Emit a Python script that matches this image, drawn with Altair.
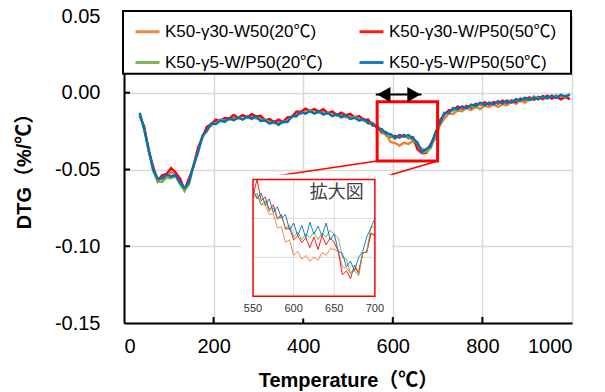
import altair as alt
import pandas as pd

# ---------------- data ----------------
SERIES = ["K50-γ30-W50(20℃)", "K50-γ30-W/P50(50℃)", "K50-γ5-W/P50(20℃)", "K50-γ5-W/P50(50℃)"]
COLORS = ["#ED7D31", "#FF0000", "#70AD47", "#0070C0"]

T_MAIN = list(range(35, 1000, 10))

orange = [
    -0.0149, -0.0225, -0.0376, -0.0478, -0.0573, -0.0540, -0.0549, -0.0518, -0.0536, -0.0561,
    -0.0637, -0.0565, -0.0476, -0.0356, -0.0288, -0.0222, -0.0216, -0.0183, -0.0184, -0.0166,
    -0.0177, -0.0158, -0.0167, -0.0146, -0.0164, -0.0145, -0.0169, -0.0161, -0.0182, -0.0176,
    -0.0200, -0.0188, -0.0194, -0.0161, -0.0161, -0.0128, -0.0139, -0.0114, -0.0122, -0.0111,
    -0.0132, -0.0121, -0.0137, -0.0123, -0.0149, -0.0135, -0.0161, -0.0148, -0.0164, -0.0156,
    -0.0184, -0.0185, -0.0211, -0.0213, -0.0263, -0.0270, -0.0321, -0.0328, -0.0344, -0.0326,
    -0.0334, -0.0315, -0.0346, -0.0363, -0.0378, -0.0335, -0.0301, -0.0213, -0.0169, -0.0136,
    -0.0137, -0.0115, -0.0121, -0.0098, -0.0113, -0.0090, -0.0106, -0.0085, -0.0093, -0.0077,
    -0.0093, -0.0075, -0.0081, -0.0057, -0.0072, -0.0048, -0.0064, -0.0041, -0.0047, -0.0030,
    -0.0044, -0.0027, -0.0036, -0.0016, -0.0035, -0.0018, -0.0041,
]
red = [
    -0.0147, -0.0219, -0.0379, -0.0485, -0.0577, -0.0537, -0.0529, -0.0490, -0.0518, -0.0559,
    -0.0632, -0.0559, -0.0484, -0.0365, -0.0292, -0.0222, -0.0204, -0.0175, -0.0183, -0.0164,
    -0.0167, -0.0144, -0.0162, -0.0145, -0.0160, -0.0139, -0.0154, -0.0150, -0.0178, -0.0171,
    -0.0190, -0.0174, -0.0189, -0.0160, -0.0157, -0.0122, -0.0124, -0.0103, -0.0118, -0.0106,
    -0.0122, -0.0107, -0.0132, -0.0122, -0.0145, -0.0129, -0.0146, -0.0137, -0.0160, -0.0151,
    -0.0177, -0.0174, -0.0214, -0.0215, -0.0257, -0.0257, -0.0289, -0.0280, -0.0293, -0.0274,
    -0.0297, -0.0289, -0.0369, -0.0395, -0.0392, -0.0332, -0.0274, -0.0180, -0.0143, -0.0114,
    -0.0115, -0.0089, -0.0104, -0.0085, -0.0097, -0.0072, -0.0079, -0.0062, -0.0077, -0.0060,
    -0.0071, -0.0051, -0.0067, -0.0049, -0.0062, -0.0038, -0.0046, -0.0029, -0.0044, -0.0027,
    -0.0039, -0.0019, -0.0039, -0.0025, -0.0044, -0.0027, -0.0042,
]
green = [
    -0.0134, -0.0240, -0.0376, -0.0511, -0.0576, -0.0581, -0.0552, -0.0557, -0.0543, -0.0595,
    -0.0639, -0.0600, -0.0476, -0.0391, -0.0286, -0.0251, -0.0202, -0.0202, -0.0173, -0.0185,
    -0.0169, -0.0180, -0.0159, -0.0171, -0.0159, -0.0173, -0.0157, -0.0182, -0.0173, -0.0197,
    -0.0192, -0.0210, -0.0186, -0.0186, -0.0156, -0.0156, -0.0127, -0.0135, -0.0113, -0.0132,
    -0.0124, -0.0143, -0.0129, -0.0148, -0.0144, -0.0163, -0.0149, -0.0169, -0.0155, -0.0177,
    -0.0174, -0.0200, -0.0196, -0.0226, -0.0241, -0.0279, -0.0280, -0.0300, -0.0276, -0.0288,
    -0.0287, -0.0308, -0.0329, -0.0389, -0.0386, -0.0359, -0.0270, -0.0205, -0.0131, -0.0133,
    -0.0107, -0.0115, -0.0091, -0.0101, -0.0086, -0.0096, -0.0072, -0.0084, -0.0062, -0.0076,
    -0.0058, -0.0072, -0.0049, -0.0060, -0.0046, -0.0057, -0.0034, -0.0046, -0.0024, -0.0038,
    -0.0024, -0.0038, -0.0017, -0.0030, -0.0018, -0.0031, -0.0010,
]
blue = [
    -0.0130, -0.0238, -0.0364, -0.0501, -0.0556, -0.0560, -0.0534, -0.0544, -0.0536, -0.0585,
    -0.0620, -0.0583, -0.0474, -0.0391, -0.0281, -0.0245, -0.0199, -0.0204, -0.0181, -0.0190,
    -0.0165, -0.0178, -0.0162, -0.0176, -0.0154, -0.0167, -0.0154, -0.0184, -0.0181, -0.0202,
    -0.0188, -0.0208, -0.0189, -0.0191, -0.0151, -0.0150, -0.0124, -0.0137, -0.0121, -0.0137,
    -0.0120, -0.0141, -0.0132, -0.0153, -0.0139, -0.0157, -0.0146, -0.0171, -0.0163, -0.0182,
    -0.0170, -0.0198, -0.0199, -0.0231, -0.0236, -0.0265, -0.0269, -0.0294, -0.0276, -0.0285,
    -0.0275, -0.0298, -0.0324, -0.0386, -0.0366, -0.0345, -0.0259, -0.0199, -0.0131, -0.0130,
    -0.0098, -0.0108, -0.0089, -0.0101, -0.0076, -0.0085, -0.0064, -0.0081, -0.0065, -0.0076,
    -0.0054, -0.0070, -0.0052, -0.0065, -0.0041, -0.0051, -0.0031, -0.0048, -0.0032, -0.0043,
    -0.0020, -0.0036, -0.0020, -0.0035, -0.0013, -0.0025, -0.0012,
]

T_INSET = list(range(550, 701, 5))
inset_orange = [
    -0.0200, -0.0190, -0.0215, -0.0215, -0.0240, -0.0238, -0.0275, -0.0272, -0.0312, -0.0305,
    -0.0345, -0.0335, -0.0355, -0.0345, -0.0360, -0.0350, -0.0358, -0.0338, -0.0345, -0.0328,
    -0.0330, -0.0335, -0.0375, -0.0378, -0.0390, -0.0380, -0.0385, -0.0340, -0.0335, -0.0292,
    -0.0295,
]
inset_red = [
    -0.0190, -0.0150, -0.0205, -0.0195, -0.0228, -0.0215, -0.0250, -0.0240, -0.0278, -0.0275,
    -0.0305, -0.0295, -0.0312, -0.0300, -0.0325, -0.0298, -0.0330, -0.0295, -0.0318, -0.0300,
    -0.0312, -0.0335, -0.0395, -0.0385, -0.0405, -0.0370, -0.0392, -0.0338, -0.0338, -0.0288,
    -0.0292,
]
inset_green = [
    -0.0195, -0.0185, -0.0215, -0.0205, -0.0232, -0.0222, -0.0252, -0.0245, -0.0275, -0.0268,
    -0.0298, -0.0285, -0.0305, -0.0290, -0.0300, -0.0285, -0.0305, -0.0288, -0.0298, -0.0280,
    -0.0292, -0.0300, -0.0350, -0.0355, -0.0392, -0.0385, -0.0398, -0.0340, -0.0335, -0.0275,
    -0.0270,
]
inset_blue = [
    -0.0175, -0.0200, -0.0185, -0.0215, -0.0200, -0.0235, -0.0220, -0.0250, -0.0240, -0.0280,
    -0.0262, -0.0295, -0.0268, -0.0300, -0.0260, -0.0290, -0.0270, -0.0295, -0.0262, -0.0305,
    -0.0290, -0.0335, -0.0340, -0.0375, -0.0360, -0.0385, -0.0350, -0.0335, -0.0298, -0.0275,
    -0.0250,
]

X_TICKS = [0, 200, 400, 600, 800, 1000]
Y_TICKS = [-0.15, -0.10, -0.05, 0.00, 0.05]
INNER_Y_TICKS = [0.0, -0.05, -0.10]
INNER_X_TICKS = [200, 400, 600, 800]
INSET_X_TICKS = [550, 600, 650, 700]
INSET_X_GRID = [600, 650]
INSET_Y_GRID = [-0.025, -0.035]
INSET_X_DOMAIN = [550, 700]
INSET_Y_DOMAIN = [-0.045, -0.015]

# annotation geometry, in main-chart data units
ZOOM_BOX_X = [565, 700]
ZOOM_BOX_Y = [-0.0058, -0.0445]
ARROW_X = [562, 664]
ARROW_Y = -0.0012
ARROW_HEAD_X = [580, 647]
INSET_PLACE_X = [288, 560]
INSET_PLACE_Y = [-0.0565, -0.1325]
INSET_BG_X = [262, 597]
INSET_BG_Y = [-0.0532, -0.1470]
LEGEND_BOX_X = [-2.2, 997.8]
LEGEND_BOX_Y = [0.0532, 0.0123]
ZOOM_TEXT = ["拡大図"]
ZOOM_TEXT_POS = [653, -0.0185]

# ---------------- layout ----------------
W, H = 448, 307
XDOM = [0, 1000]
YDOM = [-0.15, 0.05]
FONT = "Liberation Sans, Arial, 'Noto Sans CJK JP', sans-serif"
CJK = "'Noto Sans CJK JP', sans-serif"


def px_x(v):
    return (v - XDOM[0]) / (XDOM[1] - XDOM[0]) * W


def px_y(v):
    return (YDOM[1] - v) / (YDOM[1] - YDOM[0]) * H


xs = alt.Scale(domain=XDOM, nice=False, zero=False)
ys = alt.Scale(domain=YDOM, nice=False, zero=False)
ixs = alt.Scale(domain=INSET_X_DOMAIN, range=[px_x(INSET_PLACE_X[0]), px_x(INSET_PLACE_X[1])], nice=False, zero=False)
iys = alt.Scale(domain=INSET_Y_DOMAIN, range=[px_y(INSET_PLACE_Y[1]), px_y(INSET_PLACE_Y[0])], nice=False, zero=False)

rows = []
for name, vals in zip(SERIES, [orange, red, green, blue]):
    for t, v in zip(T_MAIN, vals):
        rows.append({"T": t, "v": v, "s": name})
df_main = pd.DataFrame(rows)

irows = []
for name, vals in zip(SERIES, [inset_orange, inset_red, inset_green, inset_blue]):
    for t, v in zip(T_INSET, vals):
        irows.append({"T": t, "v": v, "s": name})
df_inset = pd.DataFrame(irows)

legend = alt.Legend(
    orient="none", legendX=10, legendY=2, columns=2, direction="horizontal",
    symbolType="stroke", symbolSize=576, symbolStrokeWidth=3,
    labelFont=FONT, labelFontSize=17, labelColor="black", labelLimit=400, labelOffset=4,
    rowPadding=9, columnPadding=30, padding=0, title=None,
)
color = alt.Color("s:N", scale=alt.Scale(domain=SERIES, range=COLORS), legend=legend, sort=SERIES)

x_axis = alt.Axis(
    values=X_TICKS, format="d", grid=True, gridColor="#d9d9d9", gridWidth=1.5, ticks=False,
    domainColor="black", domainWidth=2, labelFont=FONT, labelFontSize=20, labelColor="black",
    labelPadding=13, title="Temperature（℃）", titleFont=FONT, titleFontSize=20,
    titleFontWeight="bold", titleColor="black", titleX=W / 2, titleY=63,
    titleBaseline="alphabetic", titleAlign="center",
)
y_axis = alt.Axis(
    values=Y_TICKS, grid=True, gridColor="#d9d9d9", gridWidth=1.5, ticks=False,
    domainColor="black", domainWidth=2, labelFont=FONT, labelFontSize=20, labelColor="black",
    labelPadding=24, labelExpr="replace(format(datum.value, '.2f'), '\u2212', '-')",
    title="DTG（%/℃）", titleFont=FONT, titleFontSize=20, titleFontWeight="bold",
    titleColor="black", titleAngle=270, titleX=-100, titleY=150,
    titleAlign="center", titleBaseline="middle",
)


def box_df(xr, yr):
    return pd.DataFrame({"x1": [xr[0]], "x2": [xr[1]], "y1": [yr[0]], "y2": [yr[1]]})


legend_box = alt.Chart(box_df(LEGEND_BOX_X, LEGEND_BOX_Y)).mark_rect(
    fill="white", stroke="black", strokeWidth=2
).encode(x=alt.X("x1:Q", scale=xs, axis=x_axis), x2="x2:Q",
         y=alt.Y("y1:Q", scale=ys, axis=y_axis), y2="y2:Q")

lines = alt.Chart(df_main).mark_line(strokeWidth=2.3).encode(
    x=alt.X("T:Q", scale=xs, axis=x_axis),
    y=alt.Y("v:Q", scale=ys, axis=y_axis),
    color=color,
)

# inward ticks
yt = alt.Chart(pd.DataFrame({"v": INNER_Y_TICKS})).mark_rule(color="black", strokeWidth=2).encode(
    y=alt.Y("v:Q", scale=ys, axis=y_axis), x=alt.value(0), x2=alt.value(6))
xt = alt.Chart(pd.DataFrame({"t": INNER_X_TICKS})).mark_rule(color="black", strokeWidth=2).encode(
    x=alt.X("t:Q", scale=xs, axis=x_axis), y=alt.value(H), y2=alt.value(H - 6))

zoom_box = alt.Chart(box_df(ZOOM_BOX_X, ZOOM_BOX_Y)).mark_rect(
    fillOpacity=0, stroke="#FF0000", strokeWidth=3
).encode(x=alt.X("x1:Q", scale=xs, axis=x_axis), x2="x2:Q",
         y=alt.Y("y1:Q", scale=ys, axis=y_axis), y2="y2:Q")

arrow_shaft = alt.Chart(pd.DataFrame({"x1": [ARROW_X[0]], "x2": [ARROW_X[1]], "y": [ARROW_Y]})).mark_rule(
    color="black", strokeWidth=2
).encode(x=alt.X("x1:Q", scale=xs, axis=x_axis), x2="x2:Q", y=alt.Y("y:Q", scale=ys, axis=y_axis))

arrow_heads = alt.Chart(pd.DataFrame({"x": ARROW_HEAD_X, "y": [ARROW_Y, ARROW_Y],
                                      "shape": ["triangle-left", "triangle-right"]})).mark_point(
    filled=True, color="black", opacity=1, size=230
).encode(x=alt.X("x:Q", scale=xs, axis=x_axis), y=alt.Y("y:Q", scale=ys, axis=y_axis),
         shape=alt.Shape("shape:N", scale=None))

links = alt.Chart(pd.DataFrame({"x1": ZOOM_BOX_X, "y1": [ZOOM_BOX_Y[1]] * 2,
                                "x2": INSET_PLACE_X, "y2": [INSET_PLACE_Y[0]] * 2})).mark_rule(
    color="#FF0000", strokeWidth=1.5
).encode(x=alt.X("x1:Q", scale=xs, axis=x_axis), y=alt.Y("y1:Q", scale=ys, axis=y_axis),
         x2="x2:Q", y2="y2:Q")

inset_bg = alt.Chart(box_df(INSET_BG_X, INSET_BG_Y)).mark_rect(fill="white").encode(
    x=alt.X("x1:Q", scale=xs, axis=x_axis), x2="x2:Q",
    y=alt.Y("y1:Q", scale=ys, axis=y_axis), y2="y2:Q")

main = alt.layer(legend_box, lines, yt, xt, zoom_box, arrow_shaft, arrow_heads, links, inset_bg)

# ---------------- inset ----------------
igrid_v = alt.Chart(pd.DataFrame({"g": INSET_X_GRID, "y1": [INSET_Y_DOMAIN[1]] * 2,
                                  "y2": [INSET_Y_DOMAIN[0]] * 2})).mark_rule(
    color="#d9d9d9", strokeWidth=1
).encode(x=alt.X("g:Q", scale=ixs, axis=None), y=alt.Y("y1:Q", scale=iys, axis=None), y2="y2:Q")
igrid_h = alt.Chart(pd.DataFrame({"g": INSET_Y_GRID, "x1": [INSET_X_DOMAIN[0]] * 2,
                                  "x2": [INSET_X_DOMAIN[1]] * 2})).mark_rule(
    color="#d9d9d9", strokeWidth=1
).encode(y=alt.Y("g:Q", scale=iys, axis=None), x=alt.X("x1:Q", scale=ixs, axis=None), x2="x2:Q")
ilines = alt.Chart(df_inset).mark_line(strokeWidth=1, opacity=0.9).encode(
    x=alt.X("T:Q", scale=ixs, axis=None), y=alt.Y("v:Q", scale=iys, axis=None), color=color)
iborder = alt.Chart(box_df(INSET_X_DOMAIN, [INSET_Y_DOMAIN[1], INSET_Y_DOMAIN[0]])).mark_rect(
    fillOpacity=0, stroke="#FF0000", strokeWidth=1.5
).encode(x=alt.X("x1:Q", scale=ixs, axis=None), x2="x2:Q",
         y=alt.Y("y1:Q", scale=iys, axis=None), y2="y2:Q")
ilabels = alt.Chart(pd.DataFrame({"t": INSET_X_TICKS, "y": [INSET_Y_DOMAIN[0]] * 4})).mark_text(
    font=FONT, fontSize=11, color="#333333", baseline="middle", dy=13
).encode(x=alt.X("t:Q", scale=ixs, axis=None), y=alt.Y("y:Q", scale=iys, axis=None), text=alt.Text("t:Q"))
itext = alt.Chart(pd.DataFrame({"x": [ZOOM_TEXT_POS[0]], "y": [ZOOM_TEXT_POS[1]], "s": ZOOM_TEXT})).mark_text(
    font=CJK, fontSize=18, color="#404040", baseline="middle"
).encode(x=alt.X("x:Q", scale=ixs, axis=None), y=alt.Y("y:Q", scale=iys, axis=None), text="s:N")

inset = alt.layer(igrid_v, igrid_h, ilines, iborder, ilabels, itext)

chart = alt.layer(main, inset).resolve_scale(x="independent", y="independent").properties(
    width=W, height=H,
    padding={"left": 124, "top": 16, "right": 33, "bottom": 69},
    autosize=alt.AutoSizeParams(type="none"),
).configure_view(stroke="black", strokeWidth=2).configure(background="white")

chart.save("out.html", embed_options={"renderer": "svg", "actions": False})
